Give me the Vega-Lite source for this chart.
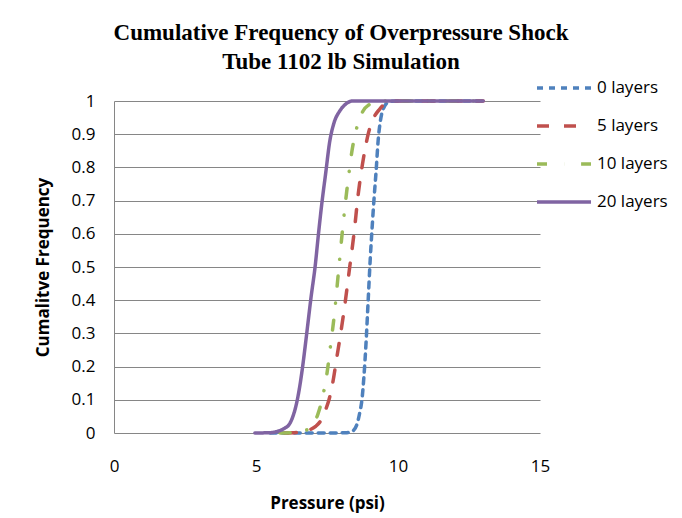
{
  "$schema": "https://vega.github.io/schema/vega-lite/v6.json",
  "width": 426,
  "height": 332,
  "autosize": {"type": "none"},
  "padding": {"left": 114, "top": 101, "right": 142, "bottom": 85},
  "background": "white",
  "title": {
    "text": ["Cumulative Frequency of Overpressure Shock", "Tube 1102 lb Simulation"],
    "font": "Liberation Serif",
    "fontSize": 23,
    "fontWeight": "bold",
    "color": "black",
    "anchor": "middle",
    "dx": 14,
    "offset": 3,
    "lineHeight": 29
  },
  "config": {
    "view": {"stroke": null},
    "font": "Open Sans"
  },
  "data": {
    "values": [
      {"p": 5.5, "f": 0, "s": "0 layers"},
      {"p": 7.5, "f": 0, "s": "0 layers"},
      {"p": 8.2, "f": 0.001, "s": "0 layers"},
      {"p": 8.4, "f": 0.006, "s": "0 layers"},
      {"p": 8.55, "f": 0.025, "s": "0 layers"},
      {"p": 8.65, "f": 0.06, "s": "0 layers"},
      {"p": 8.73, "f": 0.1, "s": "0 layers"},
      {"p": 8.8, "f": 0.17, "s": "0 layers"},
      {"p": 8.88, "f": 0.28, "s": "0 layers"},
      {"p": 8.95, "f": 0.4, "s": "0 layers"},
      {"p": 9.02, "f": 0.52, "s": "0 layers"},
      {"p": 9.09, "f": 0.62, "s": "0 layers"},
      {"p": 9.16, "f": 0.71, "s": "0 layers"},
      {"p": 9.23, "f": 0.79, "s": "0 layers"},
      {"p": 9.3, "f": 0.88, "s": "0 layers"},
      {"p": 9.38, "f": 0.94, "s": "0 layers"},
      {"p": 9.5, "f": 0.98, "s": "0 layers"},
      {"p": 9.7, "f": 0.998, "s": "0 layers"},
      {"p": 10.0, "f": 1, "s": "0 layers"},
      {"p": 13.0, "f": 1, "s": "0 layers"},

      {"p": 6.0, "f": 0, "s": "5 layers"},
      {"p": 6.5, "f": 0.002, "s": "5 layers"},
      {"p": 6.9, "f": 0.01, "s": "5 layers"},
      {"p": 7.1, "f": 0.02, "s": "5 layers"},
      {"p": 7.3, "f": 0.04, "s": "5 layers"},
      {"p": 7.45, "f": 0.07, "s": "5 layers"},
      {"p": 7.57, "f": 0.1, "s": "5 layers"},
      {"p": 7.7, "f": 0.15, "s": "5 layers"},
      {"p": 7.85, "f": 0.23, "s": "5 layers"},
      {"p": 8.0, "f": 0.31, "s": "5 layers"},
      {"p": 8.15, "f": 0.4, "s": "5 layers"},
      {"p": 8.3, "f": 0.5, "s": "5 layers"},
      {"p": 8.45, "f": 0.6, "s": "5 layers"},
      {"p": 8.6, "f": 0.72, "s": "5 layers"},
      {"p": 8.75, "f": 0.81, "s": "5 layers"},
      {"p": 8.95, "f": 0.9, "s": "5 layers"},
      {"p": 9.15, "f": 0.95, "s": "5 layers"},
      {"p": 9.35, "f": 0.975, "s": "5 layers"},
      {"p": 9.6, "f": 0.995, "s": "5 layers"},
      {"p": 10.0, "f": 1, "s": "5 layers"},
      {"p": 13.0, "f": 1, "s": "5 layers"},

      {"p": 5.85, "f": 0, "s": "10 layers"},
      {"p": 6.5, "f": 0.003, "s": "10 layers"},
      {"p": 6.8, "f": 0.01, "s": "10 layers"},
      {"p": 7.0, "f": 0.025, "s": "10 layers"},
      {"p": 7.18, "f": 0.057, "s": "10 layers"},
      {"p": 7.36, "f": 0.114, "s": "10 layers"},
      {"p": 7.5, "f": 0.18, "s": "10 layers"},
      {"p": 7.62, "f": 0.26, "s": "10 layers"},
      {"p": 7.75, "f": 0.35, "s": "10 layers"},
      {"p": 7.92, "f": 0.5, "s": "10 layers"},
      {"p": 8.08, "f": 0.64, "s": "10 layers"},
      {"p": 8.24, "f": 0.76, "s": "10 layers"},
      {"p": 8.38, "f": 0.85, "s": "10 layers"},
      {"p": 8.52, "f": 0.91, "s": "10 layers"},
      {"p": 8.77, "f": 0.97, "s": "10 layers"},
      {"p": 9.0, "f": 0.99, "s": "10 layers"},
      {"p": 9.3, "f": 1, "s": "10 layers"},
      {"p": 13.0, "f": 1, "s": "10 layers"},

      {"p": 4.96, "f": 0, "s": "20 layers"},
      {"p": 5.5, "f": 0.001, "s": "20 layers"},
      {"p": 5.8, "f": 0.006, "s": "20 layers"},
      {"p": 6.0, "f": 0.014, "s": "20 layers"},
      {"p": 6.2, "f": 0.03, "s": "20 layers"},
      {"p": 6.32, "f": 0.055, "s": "20 layers"},
      {"p": 6.43, "f": 0.09, "s": "20 layers"},
      {"p": 6.52, "f": 0.13, "s": "20 layers"},
      {"p": 6.61, "f": 0.18, "s": "20 layers"},
      {"p": 6.73, "f": 0.26, "s": "20 layers"},
      {"p": 6.8, "f": 0.31, "s": "20 layers"},
      {"p": 6.94, "f": 0.41, "s": "20 layers"},
      {"p": 7.08, "f": 0.5, "s": "20 layers"},
      {"p": 7.2, "f": 0.6, "s": "20 layers"},
      {"p": 7.33, "f": 0.7, "s": "20 layers"},
      {"p": 7.45, "f": 0.78, "s": "20 layers"},
      {"p": 7.6, "f": 0.88, "s": "20 layers"},
      {"p": 7.75, "f": 0.935, "s": "20 layers"},
      {"p": 7.95, "f": 0.97, "s": "20 layers"},
      {"p": 8.15, "f": 0.99, "s": "20 layers"},
      {"p": 8.4, "f": 1, "s": "20 layers"},
      {"p": 13.0, "f": 1, "s": "20 layers"}
    ]
  },
  "mark": {"type": "line", "strokeWidth": 3.5, "strokeCap": "round", "interpolate": "monotone"},
  "encoding": {
    "x": {
      "field": "p",
      "type": "quantitative",
      "scale": {"domain": [0, 15], "nice": false, "zero": false},
      "axis": {
        "title": "Pressure (psi)",
        "values": [0, 5, 10, 15],
        "grid": false,
        "domain": false,
        "ticks": false,
        "tickSize": 0,
        "labelFont": "Open Sans",
        "labelFontSize": 17,
        "labelColor": "black",
        "labelBaseline": "middle",
        "labelPadding": 33,
        "labelFlush": false,
        "titleFont": "Open Sans",
        "titleFontSize": 17,
        "titleFontWeight": "bold",
        "titleColor": "black",
        "titleX": 213,
        "titleY": 70,
        "titleBaseline": "middle"
      }
    },
    "y": {
      "field": "f",
      "type": "quantitative",
      "scale": {"domain": [0, 1], "nice": false},
      "axis": {
        "title": "Cumalitve Frequency",
        "values": [0, 0.1, 0.2, 0.3, 0.4, 0.5, 0.6, 0.7, 0.8, 0.9, 1],
        "format": "~g",
        "grid": true,
        "gridColor": "#868686",
        "gridWidth": 1,
        "gridOpacity": 1,
        "domain": true,
        "domainColor": "#868686",
        "domainWidth": 1,
        "ticks": false,
        "tickSize": 0,
        "labelFont": "Open Sans",
        "labelFontSize": 17,
        "labelColor": "black",
        "labelPadding": 19,
        "labelFlush": false,
        "titleFont": "Open Sans",
        "titleFontSize": 17,
        "titleFontWeight": "bold",
        "titleColor": "black",
        "titleX": -71,
        "titleY": 166,
        "titleAngle": -90,
        "titleBaseline": "middle"
      }
    },
    "color": {
      "field": "s",
      "type": "nominal",
      "scale": {
        "domain": ["0 layers", "5 layers", "10 layers", "20 layers"],
        "range": ["#4F81BD", "#C0504D", "#9BBB59", "#8064A2"]
      },
      "legend": {
        "title": null,
        "orient": "none",
        "legendX": 439,
        "legendY": -24,
        "padding": 0,
        "symbolType": "M-3,0L3,0",
        "symbolSize": 324,
        "symbolStrokeWidth": 3.5,
        "symbolFillColor": "transparent",
        "labelFont": "Open Sans",
        "labelFontSize": 17,
        "labelColor": "black",
        "labelOffset": 22,
        "rowPadding": 19
      }
    },
    "strokeDash": {
      "field": "s",
      "type": "nominal",
      "scale": {
        "domain": ["0 layers", "5 layers", "10 layers", "20 layers"],
        "range": [[6, 6], [12, 15], [10, 17, 0.1, 17], [1, 0]]
      },
      "legend": null
    },
    "order": {"field": "p", "type": "quantitative"}
  }
}
